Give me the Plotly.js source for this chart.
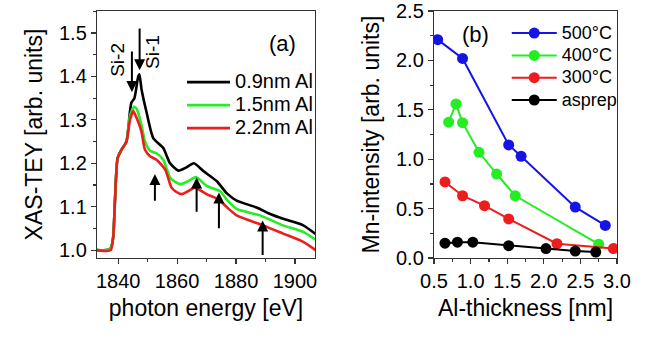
<!DOCTYPE html>
<html><head><meta charset="utf-8">
<script src="https://cdn.plot.ly/plotly-3.0.1.min.js"></script>
<style>html,body{margin:0;padding:0;background:#fff}#chart{width:653px;height:338px}</style>
</head><body><div id="chart"></div>
<script>
// Panel (a): XAS spectra
const energyBlack = [1832.8,1836,1837.5,1838.3,1838.9,1839.8,1841.1,1842.8,1844,1844.5,1845.5,1846.8,1847.2,1847.9,1849.6,1851.9,1855.3,1857.6,1860.4,1863,1865.7,1868.9,1873.4,1877,1880.2,1887,1891,1896,1902.8,1907];
const teyBlack    = [1.0,1.0,1.005,1.03,1.114,1.212,1.231,1.25,1.32,1.34,1.35,1.40,1.405,1.371,1.318,1.258,1.235,1.20,1.183,1.19,1.20,1.182,1.159,1.13,1.114,1.098,1.085,1.072,1.057,1.037];
const energyGreen = [1832.8,1836,1837.5,1838.3,1838.9,1839.8,1841.1,1842.8,1844,1845.4,1846.3,1847.9,1849.1,1850.8,1853,1855.3,1857.8,1861,1863.5,1866.4,1870,1874.5,1877,1880.2,1888.1,1896,1902.8,1907];
const teyGreen    = [1.0,1.0,1.005,1.03,1.114,1.212,1.231,1.25,1.31,1.33,1.325,1.288,1.25,1.229,1.223,1.208,1.165,1.152,1.158,1.168,1.148,1.136,1.115,1.095,1.080,1.057,1.042,1.024];
const energyRed   = [1832.8,1836,1837.5,1838.3,1838.9,1839.8,1841.1,1842.8,1844,1845.1,1846.5,1847.9,1849.1,1850.8,1853,1856,1858,1859.5,1861.5,1863.5,1866,1870,1874,1877,1880.2,1889.2,1896,1902.8,1907];
const teyRed      = [1.0,0.998,1.0,1.03,1.114,1.212,1.231,1.25,1.30,1.32,1.30,1.273,1.231,1.216,1.208,1.185,1.145,1.135,1.129,1.135,1.144,1.129,1.117,1.098,1.080,1.057,1.038,1.019,1.0];
const spectraNames = ['0.9nm Al','1.5nm Al','2.2nm Al'];

// Panel (b): Mn intensity vs Al thickness
const thick500 = [0.55,0.89,1.52,1.69,2.43,2.84];
const mn500    = [2.21,2.02,1.145,1.03,0.515,0.33];
const thick400 = [0.70,0.80,0.89,1.115,1.356,1.61,2.75];
const mn400    = [1.375,1.56,1.37,1.07,0.85,0.63,0.14];
const thick300 = [0.65,0.89,1.19,1.52,2.18,2.95];
const mn300    = [0.77,0.63,0.53,0.395,0.145,0.095];
const thickAs  = [0.65,0.82,1.03,1.52,2.03,2.43,2.71];
const mnAs     = [0.15,0.16,0.16,0.125,0.095,0.07,0.06];
const tempNames = ['500°C','400°C','300°C','asprep'];

// Arrows in panel (a): [headE, headY, tailE, tailY]
const arrowsA = [
  [1844.65,1.364,1844.65,1.461],
  [1847.27,1.414,1847.27,1.514],
  [1852.46,1.175,1852.46,1.110],
  [1866.62,1.167,1866.62,1.085],
  [1874.19,1.1325,1874.19,1.047],
  [1889.03,1.068,1889.03,0.985]
];

const FONT = 'Liberation Sans, Arial, Helvetica, sans-serif';
const cBlack='#000000', cGreen='#22ee22', cRed='#ee1c1c', cBlue='#1414e6';
const legA = s => '<span style="font-size:20px">'+s+'</span>';
const legB = s => '<span style="font-size:18px">'+s+'</span>';

const traces = [
  {x:energyBlack,y:teyBlack,name:legA(spectraNames[0]),mode:'lines',line:{color:cBlack,width:2.6,shape:'spline',smoothing:0.6},xaxis:'x',yaxis:'y',legend:'legend'},
  {x:energyGreen,y:teyGreen,name:legA(spectraNames[1]),mode:'lines',line:{color:cGreen,width:2.6,shape:'spline',smoothing:0.6},xaxis:'x',yaxis:'y',legend:'legend'},
  {x:energyRed,y:teyRed,name:legA(spectraNames[2]),mode:'lines',line:{color:cRed,width:2.6,shape:'spline',smoothing:0.6},xaxis:'x',yaxis:'y',legend:'legend'},
  {x:thick500,y:mn500,name:legB(tempNames[0]),mode:'lines+markers',line:{color:cBlue,width:2},marker:{color:cBlue,size:11},xaxis:'x2',yaxis:'y2',legend:'legend2'},
  {x:thick400,y:mn400,name:legB(tempNames[1]),mode:'lines+markers',line:{color:cGreen,width:2},marker:{color:cGreen,size:11},xaxis:'x2',yaxis:'y2',legend:'legend2'},
  {x:thick300,y:mn300,name:legB(tempNames[2]),mode:'lines+markers',line:{color:cRed,width:2},marker:{color:cRed,size:11},xaxis:'x2',yaxis:'y2',legend:'legend2'},
  {x:thickAs,y:mnAs,name:legB(tempNames[3]),mode:'lines+markers',line:{color:cBlack,width:2},marker:{color:cBlack,size:11},xaxis:'x2',yaxis:'y2',legend:'legend2'}
];

const tickF = {family:FONT,size:20,color:'#000'};
const titleF = {family:FONT,size:23,color:'#000'};
function mainAx(o){return Object.assign({showline:true,linecolor:'#333',linewidth:1.2,mirror:true,ticks:'outside',ticklen:5,tickwidth:1.2,tickcolor:'#333',showgrid:false,zeroline:false,tickfont:tickF,ticklabeloverflow:'allow',fixedrange:true},o);}
function mirAx(o){return Object.assign({showline:false,ticks:'inside',ticklen:5,tickwidth:1.2,tickcolor:'#333',showgrid:false,zeroline:false,showticklabels:false,fixedrange:true},o);}

const ann = [];
arrowsA.forEach(a=>ann.push({x:a[0],y:a[1],ax:a[2],ay:a[3],xref:'x',yref:'y',axref:'x',ayref:'y',text:'',showarrow:true,arrowhead:2,arrowsize:1.1,arrowwidth:2,arrowcolor:'#000'}));
ann.push({x:1839.9,y:1.438,xref:'x',yref:'y',xanchor:'center',yanchor:'middle',text:'Si-2',textangle:-90,showarrow:false,font:{family:FONT,size:19,color:'#000'}});
ann.push({x:1851.4,y:1.456,xref:'x',yref:'y',xanchor:'center',yanchor:'middle',text:'Si-1',textangle:-90,showarrow:false,font:{family:FONT,size:19,color:'#000'}});
ann.push({x:0.853,y:0.868,xref:'x domain',yref:'y domain',xanchor:'center',yanchor:'middle',text:'(a)',showarrow:false,font:{family:FONT,size:22,color:'#000'}});
ann.push({x:0.224,y:0.904,xref:'x2 domain',yref:'y2 domain',xanchor:'center',yanchor:'middle',text:'(b)',showarrow:false,font:{family:FONT,size:22,color:'#000'}});

const layout = {
  width:653,height:338,
  margin:{l:97,r:36,t:11,b:80},
  paper_bgcolor:'#fff',plot_bgcolor:'#fff',
  font:{family:FONT,color:'#000'},
  xaxis:mainAx({domain:[0,0.4192],range:[1832.8,1906.8],dtick:20,tick0:1840,anchor:'y',minor:{dtick:10,ticks:'outside',ticklen:3,tickcolor:'#333'},title:{text:'photon energy [eV]',font:titleF,standoff:8}}),
  yaxis:mainAx({domain:[0,1],range:[0.9818,1.5507],dtick:0.1,tick0:1.0,tickformat:'.1f',anchor:'x',minor:{dtick:0.05,ticks:'outside',ticklen:3,tickcolor:'#333'},title:{text:'XAS-TEY [arb. units]',font:titleF,standoff:10}}),
  xaxis3:mirAx({overlaying:'x',side:'top',anchor:'y',range:[1832.8,1906.8],dtick:20,tick0:1840,minor:{dtick:10,ticks:'inside',ticklen:3,tickcolor:'#333'}}),
  yaxis3:mirAx({overlaying:'y',side:'right',anchor:'x',range:[0.9818,1.5507],dtick:0.1,tick0:1.0,minor:{dtick:0.05,ticks:'inside',ticklen:3,tickcolor:'#333'}}),
  xaxis2:mainAx({domain:[0.6481,1],range:[0.5,3.0001],dtick:0.5,tick0:0.5,tickformat:'.1f',anchor:'y2',minor:{dtick:0.25,ticks:'outside',ticklen:3,tickcolor:'#333'},title:{text:'Al-thickness [nm]',font:titleF,standoff:8}}),
  yaxis2:mainAx({domain:[0,1],range:[0,2.5001],dtick:0.5,tick0:0,tickformat:'.1f',anchor:'x2',minor:{dtick:0.25,ticks:'outside',ticklen:3,tickcolor:'#333'},title:{text:'Mn-intensity [arb. units]',font:titleF,standoff:10}}),
  xaxis4:mirAx({overlaying:'x2',side:'top',anchor:'y2',range:[0.5,3.0001],dtick:0.5,tick0:0.5,minor:{dtick:0.25,ticks:'inside',ticklen:3,tickcolor:'#333'}}),
  yaxis4:mirAx({overlaying:'y2',side:'right',anchor:'x2',range:[0,2.5001],dtick:0.5,tick0:0,minor:{dtick:0.25,ticks:'inside',ticklen:3,tickcolor:'#333'}}),
  showlegend:true,
  legend:{x:0.1635,y:0.779,xanchor:'left',yanchor:'top',bgcolor:'rgba(0,0,0,0)',font:{family:FONT,size:15.4,color:'#000'},itemwidth:43,tracegroupgap:0},
  legend2:{x:0.788,y:0.976,xanchor:'left',yanchor:'top',bgcolor:'rgba(0,0,0,0)',font:{family:FONT,size:14.85,color:'#000'},itemwidth:45,tracegroupgap:0},
  annotations:ann
};
Plotly.newPlot('chart',traces,layout,{staticPlot:true,displayModeBar:false});
</script></body></html>
